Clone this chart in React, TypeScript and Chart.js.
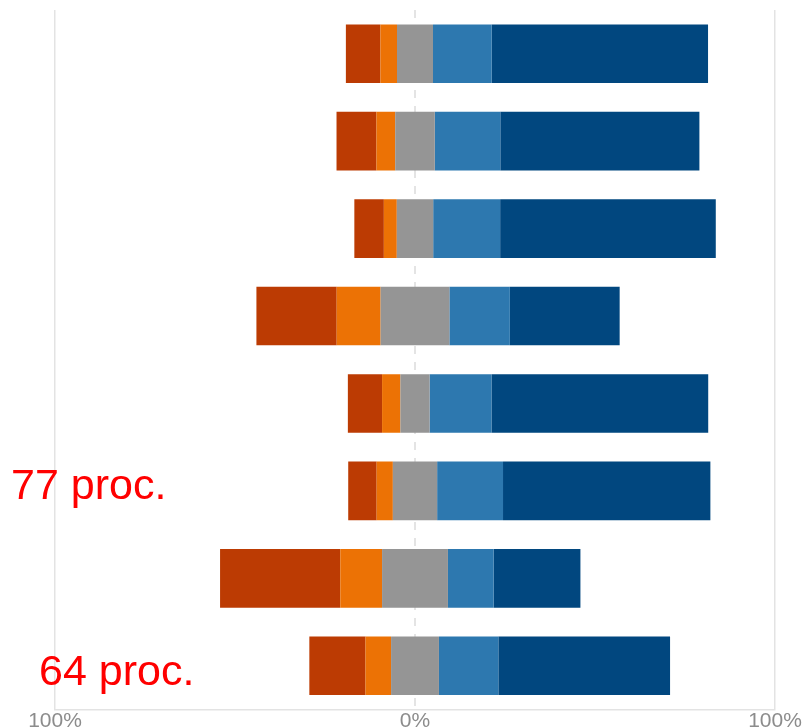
import React, { useEffect, useRef } from "react";
import { Chart, registerables } from "chart.js";

Chart.register(...registerables);

// ---- Data ----
const categories = ["1", "2", "3", "4", "5", "6", "7", "8"];
const stronglyNegative = [9.6, 11.1, 8.2, 22.3, 9.5, 7.9, 33.4, 15.6];
const negative = [4.6, 5.2, 3.6, 12.2, 5.1, 4.5, 11.6, 7.1];
const neutral = [10.0, 11.0, 10.1, 19.1, 8.1, 12.3, 18.3, 13.3];
const positive = [16.3, 18.2, 18.6, 16.8, 17.2, 18.3, 12.7, 16.5];
const stronglyPositive = [60.1, 55.3, 59.9, 30.5, 60.2, 57.6, 24.1, 47.7];
const tickValues = [-100, 0, 100];
const annotationTexts = ["77 proc.", "64 proc."];

const COLORS = {
  red: "#BC3B03",
  orange: "#EC7205",
  gray: "#959595",
  lightBlue: "#2D78AF",
  darkBlue: "#01477F",
};

const zeroLinePlugin = {
  id: "zeroLine",
  beforeDatasetsDraw(chart: any) {
    const { ctx, chartArea, scales } = chart;
    const x = Math.round(scales.x.getPixelForValue(0));
    ctx.save();
    ctx.strokeStyle = "#e4e4e4";
    ctx.lineWidth = 2;
    ctx.setLineDash([8, 8]);
    ctx.beginPath();
    ctx.moveTo(x, chartArea.top);
    ctx.lineTo(x, chartArea.bottom);
    ctx.stroke();
    ctx.restore();
  },
};

export default function App() {
  const canvasRef = useRef<HTMLCanvasElement | null>(null);

  useEffect(() => {
    if (!canvasRef.current) return;
    const seg = (label: string, data: number[], color: string) => ({
      label,
      data,
      backgroundColor: color,
      borderWidth: 0,
      borderSkipped: false,
    });
    const isZero = (c: any) => c.tick && c.tick.value === 0;
    const chart = new Chart(canvasRef.current, {
      type: "bar",
      data: {
        labels: categories,
        datasets: [
          seg("neutral-", neutral.map((v) => -v / 2), COLORS.gray),
          seg("negative", negative.map((v) => -v), COLORS.orange),
          seg("strongly negative", stronglyNegative.map((v) => -v), COLORS.red),
          seg("neutral+", neutral.map((v) => v / 2), COLORS.gray),
          seg("positive", positive, COLORS.lightBlue),
          seg("strongly positive", stronglyPositive, COLORS.darkBlue),
        ] as any,
      },
      options: {
        indexAxis: "y",
        animation: false,
        responsive: false,
        maintainAspectRatio: false,
        datasets: {
          bar: { barPercentage: 0.67, categoryPercentage: 1 },
        },
        layout: { padding: { left: 55, right: 29, top: 10, bottom: 20.5 } },
        plugins: {
          legend: { display: false },
          tooltip: { enabled: false },
        },
        scales: {
          x: {
            type: "linear",
            stacked: true,
            min: -100,
            max: 100,
            afterBuildTicks: (scale: any) => {
              scale.ticks = tickValues.map((v) => ({ value: v }));
            },
            afterFit: (scale: any) => {
              scale.height = 30;
            },
            grid: {
              color: (c: any) => (isZero(c) ? "rgba(0,0,0,0)" : "#e3e3e3"),
              lineWidth: (c: any) => (isZero(c) ? 0 : 1.5),
              drawTicks: false,
            },
            border: { display: true, color: "#e3e3e3", width: 1.5 },
            ticks: {
              padding: -1,
              color: "#8c8c8c",
              font: { family: "'Liberation Sans', Arial, sans-serif", size: 21 },
              callback: (v: any) => Math.abs(Number(v)) + "%",
            },
          },
          y: {
            type: "category",
            stacked: true,
            display: false,
          },
        },
      } as any,
      plugins: [zeroLinePlugin],
    });
    return () => chart.destroy();
  }, []);

  const annStyle: React.CSSProperties = {
    position: "absolute",
    fontFamily: "'Liberation Sans', Arial, sans-serif",
    fontSize: 43,
    lineHeight: "43px",
    color: "#ff0000",
    whiteSpace: "nowrap",
  };

  return (
    <div
      style={{
        position: "fixed",
        left: 0,
        top: 0,
        width: 804,
        height: 728,
        overflow: "hidden",
        background: "#ffffff",
      }}
    >
      <canvas
        ref={canvasRef}
        width={804}
        height={760}
        style={{ position: "absolute", left: 0, top: 0, width: 804, height: 760 }}
      />
      <div style={{ ...annStyle, left: 11, top: 463 }}>{annotationTexts[0]}</div>
      <div style={{ ...annStyle, left: 39, top: 649 }}>{annotationTexts[1]}</div>
    </div>
  );
}
